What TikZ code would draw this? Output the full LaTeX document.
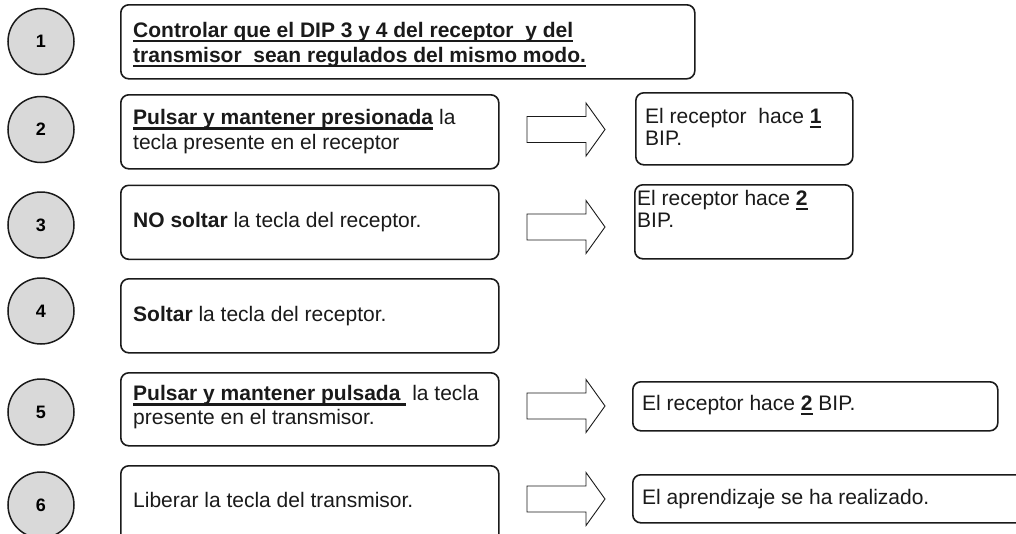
\documentclass[tikz,border=0pt]{standalone}
\usepackage{fontspec}
\setmainfont{Liberation Sans}
\definecolor{numfill}{HTML}{D9D9D9}
\definecolor{ink}{HTML}{1A1A1A}
\newsavebox\ulbox
\newcommand\myul[1]{\sbox\ulbox{#1}\rlap{\rule[-4.6pt]{\wd\ulbox}{2.1pt}}\usebox\ulbox}
\begin{document}
\begin{tikzpicture}[x=1pt,y=-1pt,
  num/.style={circle, draw=ink, line width=1.5pt, fill=numfill, minimum size=66pt, inner sep=0pt, font=\fontsize{18}{20}\selectfont\bfseries},
  stepbox/.style={draw=ink, line width=1.6pt, rounded corners=8pt, anchor=north west, inner sep=0pt},
  txt/.style={anchor=west, align=left, inner sep=0pt, font=\fontsize{21}{25}\selectfont, text=ink},
  txttop/.style={anchor=north west, align=left, inner sep=0pt, font=\fontsize{21}{22}\selectfont, text=ink},
  blockarrow/.style={draw=ink, line width=0.9pt, fill=white}
]
\useasboundingbox (0,0) rectangle (1016,533);
\clip (0,0) rectangle (1016,533);
\fill[white] (0,0) rectangle (1016,533);

% number circles
\node[num] (n1) at (41,41.5) {1};
\node[num] (n2) at (41,129.5) {2};
\node[num] (n3) at (41,225) {3};
\node[num] (n4) at (41,311) {4};
\node[num] (n5) at (41,412) {5};
\node[num] (n6) at (41,505) {6};

% step boxes
\node[stepbox, minimum width=574pt, minimum height=74pt] (b1) at (120,4) {};
\node[stepbox, minimum width=378pt, minimum height=74pt] (b2) at (120,94) {};
\node[stepbox, minimum width=378pt, minimum height=74pt] (b3) at (120,184.5) {};
\node[stepbox, minimum width=378pt, minimum height=74pt] (b4) at (120,278) {};
\node[stepbox, minimum width=378pt, minimum height=73pt] (b5) at (120,372) {};
\node[stepbox, minimum width=378pt, minimum height=90pt] (b6) at (120,465) {};

% result boxes
\node[stepbox, minimum width=217pt, minimum height=72pt] (r2) at (635,92) {};
\node[stepbox, minimum width=218pt, minimum height=74pt] (r3) at (634,184) {};
\node[stepbox, minimum width=365pt, minimum height=49pt] (r5) at (632,381) {};
\node[stepbox, minimum width=400pt, minimum height=48pt] (r6) at (632,474) {};

% texts
\node[txt, font=\fontsize{21}{25}\selectfont\bfseries] (t1) at (133,44.2)
  {\myul{Controlar que el DIP 3 y 4 del receptor\ \ y del}\\\myul{transmisor\ \ sean regulados del mismo modo.}};
\node[txt] (t2) at (133,132) {\myul{\textbf{Pulsar y mantener presionada}} la\\tecla presente en el receptor};
\node[txt] (t3) at (133,222.5) {\textbf{NO soltar} la tecla del receptor.};
\node[txt] (t4) at (133,316.2) {\textbf{Soltar} la tecla del receptor.};
\node[txt, font=\fontsize{21}{24}\selectfont] (t5) at (133,407.5) {\myul{\textbf{Pulsar y mantener pulsada\ }} la tecla\\presente en el transmisor.};
\node[txt] (t6) at (133,500.4) {Liberar la tecla del transmisor.};

\node[txttop] (s2) at (645,107.7) {El receptor\ \ hace \myul{\textbf{1}}\\BIP.};
\node[txttop] (s3) at (637,190) {El receptor hace \myul{\textbf{2}}\\BIP.};
\node[txt] (s5) at (642,405) {El receptor hace \myul{\textbf{2}} BIP.};
\node[txt] (s6) at (642,499) {El aprendizaje se ha realizado.};

% block arrows
\foreach \y in {129.5,227,406,499}
  \draw[blockarrow] (527,\y-13) -- (586,\y-13) -- (586,\y-26.5) -- (605,\y)
     -- (586,\y+26.5) -- (586,\y+13) -- (527,\y+13) -- cycle;
\end{tikzpicture}
\end{document}
